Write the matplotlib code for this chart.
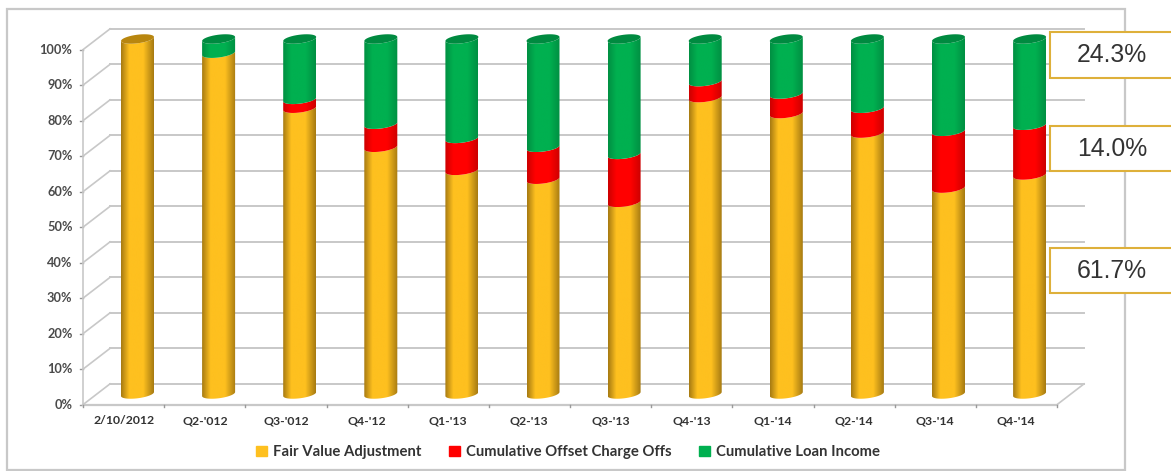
#!/usr/bin/env python3
import matplotlib

matplotlib.use("Agg")
import matplotlib.pyplot as plt
import numpy as np
from matplotlib.colors import LinearSegmentedColormap
from matplotlib.patches import Patch, PathPatch, Rectangle
from matplotlib.path import Path

categories = ["2/10/2012", "Q2-'012", "Q3-'012", "Q4-'12", "Q1-'13", "Q2-'13",
              "Q3-'13", "Q4-'13", "Q1-'14", "Q2-'14", "Q3-'14", "Q4-'14"]
fair_value = [100, 96, 80.5, 69.5, 63, 60.5, 54, 83.5, 79, 73.5, 58, 61.7]
offset_charge = [0, 0, 2.5, 6.5, 9, 9, 13.5, 4.5, 5.5, 7, 16, 14.0]
loan_income = [0, 4, 17, 24, 28, 30.5, 32.5, 12, 15.5, 19.5, 26, 24.3]
series_names = ["Fair Value Adjustment", "Cumulative Offset Charge Offs", "Cumulative Loan Income"]
callouts = ["24.3%", "14.0%", "61.7%"]
y_ticks = list(range(0, 101, 10))

W, H = 1171, 471
X0, DX = 137.5, 81.1  # pixel of first bar, pixels per category
Y0, DY = 394.0, 3.55  # pixel of 0%, pixels per percent

FONT = "Lato"
GRID = "#c8c8c8"
# edge / centre / cap colour of each series
STYLES = [("#a67a12", "#fec01f", "#b8860f"),
          ("#cc0000", "#ff0000", "#c00000"),
          ("#008f42", "#00b050", "#008a40")]

fig = plt.figure(figsize=(W / 100, H / 100), dpi=100)
ax = fig.add_axes([0, 0, 1, 1])
ax.axis("off")

fig.add_artist(Rectangle((6.5 / W, 1 - 470 / H), 1118.5 / W, 461 / H, transform=fig.transFigure,
                         fill=False, ec="#c8c8c8", lw=1.6))

# walls: back offset and front offset, in data units
left, right = -0.672, 11.338
skew_x, back_y, front_y = 0.333, 2.85, -3.0

for v in y_ticks:
    ax.plot([left + skew_x, right + skew_x], [v + back_y, v + back_y], color=GRID, lw=1.4, zorder=1)
    ax.plot([left, left + skew_x], [v + front_y, v + back_y], color=GRID, lw=1.2, zorder=1)
    ax.plot([left - 0.04, left], [v + front_y, v + front_y], color="#999999", lw=1, zorder=1)
    ax.text(left - 0.13, v + front_y, f"{v}%", ha="right", va="center", fontsize=9.2,
            family=FONT, weight="bold", color="#4a4a4a")
ax.plot([left, left], [front_y, 100 + front_y], color=GRID, lw=1.2, zorder=1)
ax.plot([left, right], [front_y, front_y], color=GRID, lw=1.6, zorder=1)
ax.plot([right, right + skew_x], [front_y, back_y], color=GRID, lw=1.2, zorder=1)
for i in range(len(categories) + 1):
    ax.plot([left + i * (right - left) / 12] * 2, [front_y, front_y - 0.7], color="#999999", lw=1, zorder=1)

half_w = 16.5 / DX
semi = 4.3 / DY
tilt = 2.0 / DY


def arc(x, y, t0, t1):
    t = np.linspace(t0, t1, 40)
    return np.column_stack([x + half_w * np.cos(t), y + semi * np.sin(t) + tilt * np.cos(t)])


def segment(x, y0, y1, style):
    edge, centre, _ = style
    cmap = LinearSegmentedColormap.from_list("c", [(0, edge), (0.25, centre), (0.68, centre), (1, edge)])
    lower = arc(x, y0, np.pi, 2 * np.pi)
    upper = arc(x, y1, 2 * np.pi, np.pi)
    verts = np.vstack([lower, upper, lower[:1]])
    img = ax.imshow(np.linspace(0, 1, 128).reshape(1, -1), cmap=cmap, aspect="auto", zorder=3,
                    extent=(x - half_w, x + half_w, y0 - semi - tilt, y1 + semi + tilt))
    img.set_clip_path(PathPatch(Path(verts), transform=ax.transData))


for i in range(len(categories)):
    bottom = 0
    last = 0
    for k, vals in enumerate([fair_value, offset_charge, loan_income]):
        if vals[i] > 0:
            segment(i, bottom, bottom + vals[i], STYLES[k])
            bottom += vals[i]
            last = k
    cap = arc(i, bottom, 0, 2 * np.pi)
    ax.fill(cap[:, 0], cap[:, 1], color=STYLES[last][2], lw=0, zorder=4)
    ax.text(i - 0.17, -7.6, categories[i], ha="center", va="center", fontsize=8.8,
            family=FONT, weight="bold", color="#333333")

ax.set_xlim(-X0 / DX, (W - X0) / DX)
ax.set_ylim((Y0 - H) / DY, Y0 / DY)

handles = [Patch(color=s[1]) for s in STYLES]
leg = ax.legend(handles, series_names, ncol=3, frameon=False, loc="center",
                bbox_to_anchor=(568 / W, 1 - 452 / H), handlelength=0.7, handleheight=0.7,
                handletextpad=0.4, columnspacing=1.9,
                prop={"family": FONT, "weight": "bold", "size": 10.7})
for t in leg.get_texts():
    t.set_color("#333333")

# callout boxes on the right run off the image edge
for label, top, bot in zip(callouts, [32, 126, 248], [78, 171, 293]):
    fig.add_artist(Rectangle((1049.5 / W, 1 - bot / H), 130 / W, (bot - top) / H, transform=fig.transFigure,
                             fc="white", ec="#deb03a", lw=1.5, zorder=5))
    fig.text(1112 / W, 1 - (top + bot) / 2 / H, label, ha="center", va="center", fontsize=17.8,
             family="Liberation Sans", color="#333333", zorder=6)

fig.savefig("out.png", dpi=100)
